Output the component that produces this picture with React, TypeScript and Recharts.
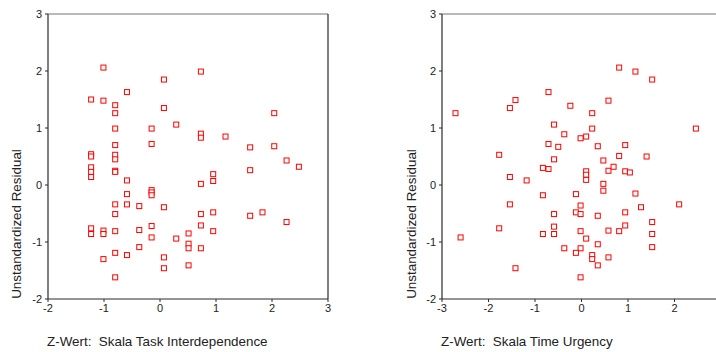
import React from "react";
import {
  ScatterChart,
  Scatter,
  XAxis,
  YAxis,
  ReferenceLine,
} from "recharts";

// residuals vs. task interdependence (z)
const taskX = [
  -1.01, -1.23, -1.01, -0.8, -0.8, -0.59, 0.07, 0.07, 0.29, -0.8, -0.15, -0.15, -0.8, -1.23, -1.23,
  -0.8, -0.8, -1.23, -1.23, -1.23, -0.8, -0.8, -0.59, -0.59, -0.15, -0.15, -0.15, -0.8, -0.59, -0.37,
  0.07, -0.8, -1.23, -1.23, -1.01, -1.01, -0.8, -0.37, -0.15, -0.15, 0.29, -0.37, -1.01, -0.8, -0.59,
  0.07, 0.07, -0.8, 0.73, 0.73, 0.73, 1.17, 2.04, 1.61, 2.04, 2.26, 2.48, 1.61, 0.95, 0.95,
  0.73, 0.73, 0.95, 1.61, 1.83, 2.26, 0.73, 0.95, 0.51, 0.51, 0.51, 0.73, 0.51,
];
const taskY = [
  2.06, 1.5, 1.48, 1.4, 1.26, 1.63, 1.85, 1.35, 1.06, 0.99, 0.99, 0.72, 0.7, 0.54, 0.5,
  0.53, 0.45, 0.31, 0.23, 0.14, 0.25, 0.23, 0.08, -0.16, -0.09, -0.13, -0.18, -0.34, -0.34, -0.37,
  -0.39, -0.51, -0.76, -0.86, -0.8, -0.86, -0.81, -0.79, -0.72, -0.92, -0.94, -1.09, -1.3, -1.19, -1.23,
  -1.27, -1.46, -1.62, 1.99, 0.9, 0.83, 0.85, 1.26, 0.66, 0.68, 0.43, 0.32, 0.26, 0.19, 0.07,
  0.02, -0.51, -0.48, -0.54, -0.48, -0.65, -0.71, -0.81, -0.85, -1.03, -1.11, -1.11, -1.41,
];

// residuals vs. time urgency (z)
const timeX = [
  -2.71, -1.77, -1.54, -1.42, -0.71, -0.59, -0.71, -0.5, -0.59, -0.83, -0.71, -1.54, -1.18, -0.83, -1.54,
  -0.59, -1.77, -0.59, -0.83, -0.59, -2.6, -1.42, 0.81, 1.16, 1.52, 0.58, -0.24, 0.23, 0.23, 2.46,
  -0.37, -0.02, 0.1, 0.35, 0.94, 0.81, 1.4, 0.47, 0.58, 0.69, 0.94, 1.04, 0.1, 0.1, 0.1,
  0.47, 0.47, -0.12, 1.16, 2.1, -0.02, 1.28, -0.12, -0.02, 0.35, 0.94, 1.52, 0.94, 0.81, 0.58,
  -0.02, 0.1, 1.52, 1.52, -0.37, -0.02, -0.12, 0.23, 0.23, 0.35, 0.58, 0.35, -0.02,
];
const timeY = [
  1.26, 0.53, 1.35, 1.49, 1.63, 1.06, 0.72, 0.67, 0.45, 0.3, 0.28, 0.14, 0.08, -0.18, -0.34,
  -0.51, -0.76, -0.73, -0.86, -0.86, -0.92, -1.46, 2.06, 1.99, 1.85, 1.48, 1.39, 1.26, 0.99, 0.99,
  0.89, 0.82, 0.85, 0.68, 0.7, 0.51, 0.5, 0.43, 0.25, 0.32, 0.24, 0.22, 0.24, 0.18, 0.09,
  0.02, -0.1, -0.16, -0.15, -0.34, -0.36, -0.39, -0.48, -0.51, -0.54, -0.48, -0.65, -0.71, -0.81, -0.8,
  -0.81, -0.94, -0.86, -1.09, -1.11, -1.11, -1.19, -1.23, -1.3, -1.04, -1.27, -1.41, -1.62,
];

const yTicks = [-2, -1, 0, 1, 2, 3];
const taskTicks = [-2, -1, 0, 1, 2, 3];
const timeTicks = [-3, -2, -1, 0, 1, 2];

const FONT = "'Liberation Sans', Arial, sans-serif";
const AXIS = "#2b2b2b";

const toPoints = (xs: number[], ys: number[]) => xs.map((x, i) => ({ x, y: ys[i] }));

const Square = (p: any) => (
  <rect x={p.cx - 2.5} y={p.cy - 2.5} width={5} height={5} fill="#fff" stroke="#ff0000" strokeWidth={1} />
);

interface PanelProps {
  xs: number[];
  ys: number[];
  xTicks: number[];
  xDomain: [number, number];
  title: string;
  left: number;
  width: number;
  margin: { top: number; right: number; bottom: number; left: number };
  yLabelX: number;
}

const Panel = ({ xs, ys, xTicks, xDomain, title, left, width, margin, yLabelX }: PanelProps) => (
  <div style={{ position: "absolute", left, top: 0 }}>
    <ScatterChart width={width} height={352} margin={margin}>
      <XAxis
        type="number"
        dataKey="x"
        domain={xDomain}
        ticks={xTicks}
        height={50}
        allowDataOverflow
        axisLine={{ stroke: AXIS, strokeWidth: 1.2 }}
        tickLine={{ stroke: AXIS }}
        tickSize={3}
        tickMargin={2}
        tick={{ fontSize: 11, fill: "#222", fontFamily: FONT }}
        label={{
          content: ({ viewBox }: any) => (
            <text x={viewBox.x - 1} y={viewBox.y + 47} fontSize={13.4} fontFamily={FONT} fill="#222">
              {title}
            </text>
          ),
        }}
      />
      <YAxis
        type="number"
        dataKey="y"
        domain={[-2, 3]}
        ticks={yTicks}
        width={30}
        axisLine={{ stroke: AXIS, strokeWidth: 1.2 }}
        tickLine={{ stroke: AXIS }}
        tickSize={3}
        tickMargin={3}
        tick={{ fontSize: 11, fill: "#222", fontFamily: FONT }}
        label={{
          content: () => (
            <text
              x={yLabelX}
              y={224}
              transform={`rotate(-90 ${yLabelX} 224)`}
              textAnchor="middle"
              dominantBaseline="central"
              fontSize={13.4}
              fontFamily={FONT}
              fill="#222"
            >
              Unstandardized Residual
            </text>
          ),
        }}
      />
      <ReferenceLine y={3} stroke="#777" strokeWidth={1.2} />
      <ReferenceLine x={xDomain[1]} stroke={AXIS} strokeWidth={1.2} />
      <Scatter data={toPoints(xs, ys)} shape={Square} isAnimationActive={false} />
    </ScatterChart>
  </div>
);

export default function App() {
  return (
    <div style={{ position: "absolute", left: 0, top: 0, width: 716, height: 352, overflow: "hidden", background: "#fff" }}>
      <Panel
        xs={taskX}
        ys={taskY}
        xTicks={taskTicks}
        xDomain={[-2, 3]}
        title={"Z-Wert:\u00A0 Skala Task Interdependence"}
        left={0}
        width={340}
        margin={{ top: 14, right: 12, bottom: 3, left: 18 }}
        yLabelX={16}
      />
      <Panel
        xs={timeX}
        ys={timeY}
        xTicks={timeTicks}
        xDomain={[-3, 3]}
        title={"Z-Wert:\u00A0 Skala Time Urgency"}
        left={360}
        width={380}
        margin={{ top: 14, right: 19, bottom: 3, left: 52 }}
        yLabelX={51}
      />
    </div>
  );
}
